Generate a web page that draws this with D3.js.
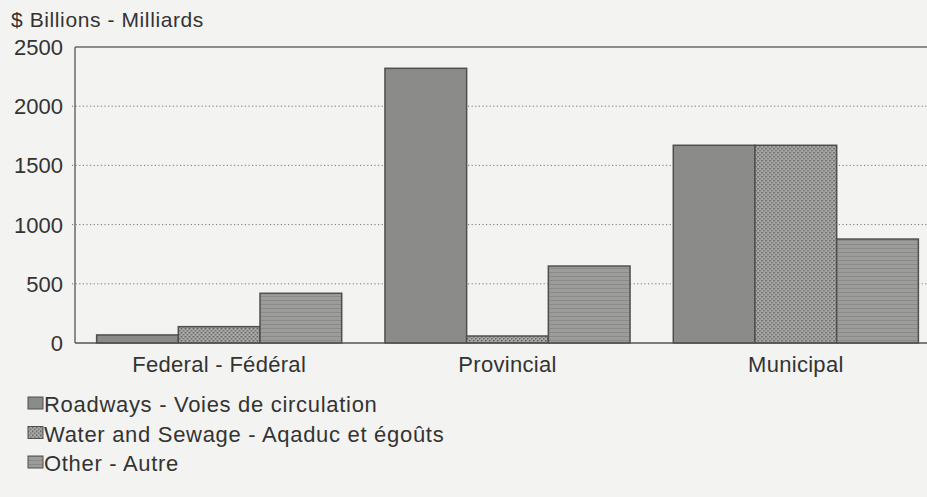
<!DOCTYPE html>
<html>
<head>
<meta charset="utf-8">
<script src="https://cdn.jsdelivr.net/npm/d3@7"></script>
<style>
  body { margin: 0; background: #f3f3f1; }
  text { font-family: "Liberation Sans", Arial, sans-serif; fill: #333; }
</style>
</head>
<body>
<div id="chart"></div>
<script>
// data
var levels = ["Federal - Fédéral", "Provincial", "Municipal"];
var seriesNames = ["Roadways - Voies de circulation",
                   "Water and Sewage - Aqaduc et égoûts",
                   "Other - Autre"];
var roadways = [68, 2320, 1670];
var water = [138, 59, 1670];
var other = [420, 650, 878];
var yTicks = [0, 500, 1000, 1500, 2000, 2500];

var width = 927, height = 497;

var svg = d3.select("#chart").append("svg")
    .attr("width", width)
    .attr("height", height);

// patterns for the fills
var defs = svg.append("defs");
var dots = defs.append("pattern")
    .attr("id", "dots")
    .attr("patternUnits", "userSpaceOnUse")
    .attr("width", 4).attr("height", 4);
dots.append("rect").attr("width", 4).attr("height", 4).attr("fill", "#a9a9a7");
dots.append("rect").attr("x", 0).attr("y", 0).attr("width", 1.5).attr("height", 1.5).attr("fill", "#5a5a5a");
dots.append("rect").attr("x", 2).attr("y", 2).attr("width", 1.5).attr("height", 1.5).attr("fill", "#6a6a6a");

var lines = defs.append("pattern")
    .attr("id", "lines")
    .attr("patternUnits", "userSpaceOnUse")
    .attr("width", 4).attr("height", 4);
lines.append("rect").attr("width", 4).attr("height", 4).attr("fill", "#9c9c9a");
lines.append("rect").attr("y", 0).attr("width", 4).attr("height", 1).attr("fill", "#8a8a88");

var fills = ["#8b8b89", "url(#dots)", "url(#lines)"];

// scales
var x = d3.scaleBand().domain(levels).range([75, 940])
    .paddingInner(0.15).paddingOuter(0.075);
var xs = d3.scaleBand().domain([0, 1, 2]).range([0, x.bandwidth()]);
var y = d3.scaleLinear().domain([0, 2500]).range([343, 47]);

// frame top line
svg.append("line")
    .attr("x1", 75).attr("x2", width)
    .attr("y1", y(2500)).attr("y2", y(2500))
    .attr("stroke", "#6a6a6a").attr("stroke-width", 1.5);

// dotted gridlines
svg.append("g")
    .selectAll("line")
    .data(yTicks.filter(function(d) { return d > 0 && d < 2500; }))
    .enter().append("line")
    .attr("x1", 72).attr("x2", width)
    .attr("y1", function(d) { return y(d); })
    .attr("y2", function(d) { return y(d); })
    .attr("stroke", "#777")
    .attr("stroke-width", 1)
    .attr("stroke-dasharray", "1.2,2.4");

// y tick labels
svg.append("g")
    .selectAll("text")
    .data(yTicks)
    .enter().append("text")
    .attr("x", 63)
    .attr("y", function(d) { return y(d); })
    .attr("dy", "0.36em")
    .attr("text-anchor", "end")
    .style("font-size", "22px")
    .text(function(d) { return d; });

// axis title
svg.append("text")
    .attr("x", 11).attr("y", 27)
    .style("font-size", "21px")
    .style("letter-spacing", "0.6px")
    .text("$ Billions - Milliards");

// bars
var series = [roadways, water, other];
var groups = svg.append("g")
    .selectAll("g")
    .data(levels)
    .enter().append("g")
    .attr("transform", function(d) { return "translate(" + x(d) + ",0)"; });

groups.selectAll("rect")
    .data(function(d, i) { return series.map(function(s, k) { return {k: k, v: s[i]}; }); })
    .enter().append("rect")
    .attr("x", function(d) { return xs(d.k); })
    .attr("width", xs.bandwidth())
    .attr("y", function(d) { return y(d.v); })
    .attr("height", function(d) { return y(0) - y(d.v); })
    .attr("fill", function(d) { return fills[d.k]; })
    .attr("stroke", "#4f4f4d")
    .attr("stroke-width", 1.5);

// left axis line and baseline
svg.append("line")
    .attr("x1", 75).attr("x2", 75)
    .attr("y1", y(2500)).attr("y2", y(0))
    .attr("stroke", "#6a6a6a").attr("stroke-width", 1.5);
svg.append("line")
    .attr("x1", 75).attr("x2", width)
    .attr("y1", y(0)).attr("y2", y(0))
    .attr("stroke", "#555").attr("stroke-width", 1.5);

// category labels
svg.append("g")
    .selectAll("text")
    .data(levels)
    .enter().append("text")
    .attr("x", function(d) { return x(d) + x.bandwidth() / 2; })
    .attr("y", 372)
    .attr("text-anchor", "middle")
    .style("font-size", "22px")
    .style("letter-spacing", "0.3px")
    .text(function(d) { return d; });

// legend
var legend = svg.append("g")
    .selectAll("g")
    .data(seriesNames)
    .enter().append("g")
    .attr("transform", function(d, i) { return "translate(28," + (397 + i * 29.5) + ")"; });

legend.append("rect")
    .attr("width", 15).attr("height", 12)
    .attr("fill", function(d, i) { return fills[i]; })
    .attr("stroke", "#4f4f4d")
    .attr("stroke-width", 1);

legend.append("text")
    .attr("x", 16).attr("y", 15)
    .style("font-size", "22px")
    .style("letter-spacing", "0.7px")
    .text(function(d) { return d; });
</script>
</body>
</html>
